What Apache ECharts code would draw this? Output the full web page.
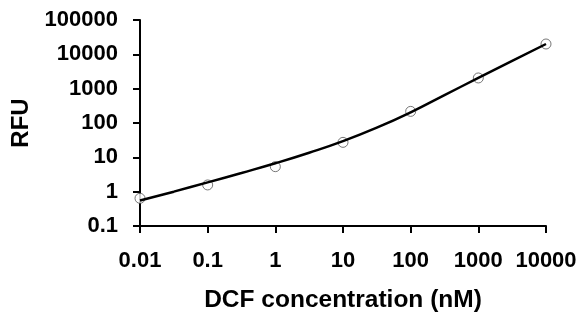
<!DOCTYPE html>
<html>
<head>
<meta charset="utf-8">
<script src="https://cdn.jsdelivr.net/npm/echarts@6/dist/echarts.min.js"></script>
<style>html,body{margin:0;padding:0;background:#fff}#c{width:581px;height:320px}</style>
</head>
<body>
<div id="c"></div>
<script>
// Measured points (DCF concentration nM vs RFU)
var pointX = [0.01, 0.1, 1, 10, 100, 1000, 10000];
var pointY = [0.64, 1.57, 5.35, 27.3, 218, 2050, 20000];
// Fitted curve
var curveX = [0.01, 0.0316, 0.1, 0.316, 1, 3.16, 10, 31.6, 100, 316, 1000, 3162, 10000];
var curveY = [0.55, 1.0, 1.87, 3.5, 6.7, 13.6, 29.6, 73, 205, 650, 2050, 6400, 20000];
var xTickLabels = ['0.01', '0.1', '1', '10', '100', '1000', '10000'];
var yTickLabels = ['0.1', '1', '10', '100', '1000', '10000', '100000'];
var xName = 'DCF concentration (nM)';
var yName = 'RFU';

function lbl(list) {
  return function (v) {
    var e = Math.round(Math.log10(v));
    for (var i = 0; i < list.length; i++) {
      if (Math.round(Math.log10(parseFloat(list[i]))) === e) return list[i];
    }
    return '';
  };
}

var font = '"Liberation Sans", Arial, sans-serif';
var chart = echarts.init(document.getElementById('c'), null, {renderer: 'canvas'});
chart.setOption({
  animation: false,
  backgroundColor: '#fff',
  grid: {left: 140, right: 35, top: 20, bottom: 94, containLabel: false},
  xAxis: {
    type: 'log', logBase: 10, min: 0.01, max: 10000,
    name: xName, nameLocation: 'middle', nameGap: 62,
    nameTextStyle: {fontFamily: font, fontWeight: 'bold', fontSize: 24.5, color: '#000'},
    axisLine: {show: true, lineStyle: {color: '#000', width: 2}},
    axisTick: {show: true, inside: false, length: 7, lineStyle: {color: '#000', width: 2}},
    minorTick: {show: false},
    splitLine: {show: false},
    axisLabel: {fontFamily: font, fontWeight: 'bold', fontSize: 22, color: '#000', margin: 24, formatter: lbl(xTickLabels)}
  },
  yAxis: {
    type: 'log', logBase: 10, min: 0.1, max: 100000,
    name: yName, nameLocation: 'middle', nameGap: 107, nameRotate: 90,
    nameTextStyle: {fontFamily: font, fontWeight: 'bold', fontSize: 24, color: '#000'},
    axisLine: {show: true, lineStyle: {color: '#000', width: 2}},
    axisTick: {show: true, inside: false, length: 7, lineStyle: {color: '#000', width: 2}},
    splitLine: {show: false},
    axisLabel: {fontFamily: font, fontWeight: 'bold', fontSize: 22, color: '#000', margin: 22, formatter: lbl(yTickLabels)}
  },
  series: [
    {
      type: 'scatter',
      data: pointX.map(function (x, i) { return [x, pointY[i]]; }),
      symbol: 'circle', symbolSize: 10,
      itemStyle: {color: '#fff', borderColor: '#555', borderWidth: 1},
      z: 3
    },
    {
      type: 'line',
      data: curveX.map(function (x, i) { return [x, curveY[i]]; }),
      smooth: true, showSymbol: false, symbol: 'none',
      lineStyle: {color: '#000', width: 2.5},
      z: 4
    }
  ]
});
</script>
</body>
</html>
